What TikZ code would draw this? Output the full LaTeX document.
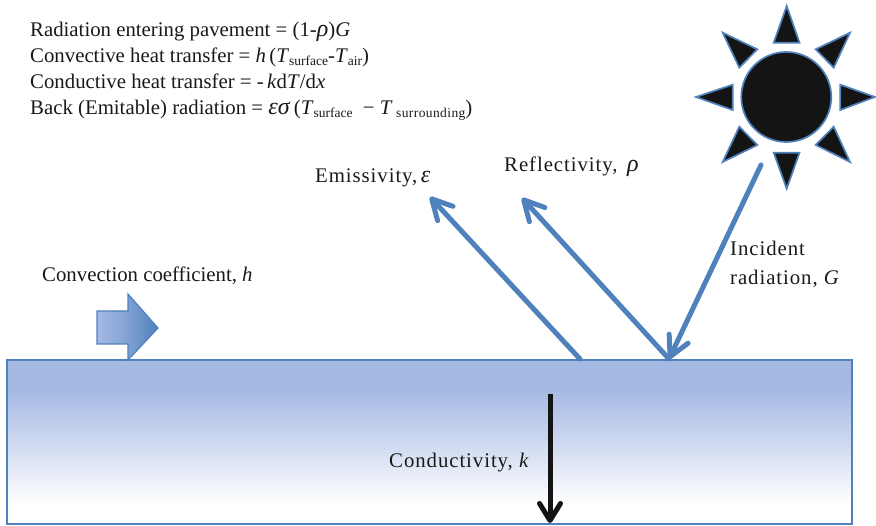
\documentclass[tikz,border=0pt]{standalone}
\usepackage{fontspec}
\setmainfont{Liberation Serif}
\usetikzlibrary{arrows.meta}
\definecolor{rayblue}{HTML}{4F81BD}
\definecolor{topblue}{HTML}{A5B9E3}
\definecolor{sunblack}{HTML}{141414}
\pgfdeclareverticalshading{pavefade}{100bp}{
  color(0bp)=(white); color(29bp)=(white); color(31bp)=(white);
  color(66bp)=(topblue); color(75bp)=(topblue); color(100bp)=(topblue)}
\pgfdeclarehorizontalshading{conveshade}{100bp}{
  color(0bp)=(topblue); color(25bp)=(topblue); color(44bp)=(topblue!70!rayblue);
  color(75bp)=(rayblue); color(100bp)=(rayblue)}
\newcommand{\sbx}[1]{\raisebox{-0.12em}{\fontsize{13.5}{13}\selectfont #1}}
\newcommand{\gk}[1]{\textit{\fontsize{24}{26}\selectfont #1}}
\tikzset{
  lbl/.style={inner sep=0pt,font=\fontsize{20.8}{26}\selectfont,text=black!90,anchor=base west},
  wide/.style={lbl,font=\fontsize{20.8}{26}\selectfont\addfontfeature{LetterSpace=4.5}},
  ray/.style={draw=rayblue,line width=5pt,line cap=round,-{Straight Barb[length=20pt,width=21pt,line width=5pt,round]}},
  sunpart/.style={draw=rayblue,fill=sunblack,line width=1.7pt,line join=miter}
}
\begin{document}
\begin{tikzpicture}[x=1pt,y=-1pt]
\useasboundingbox (0,0) rectangle (876,526);
% pavement
\node[rectangle,minimum width=845pt,minimum height=164pt,inner sep=0pt,outer sep=0pt,draw=rayblue,line width=1.6pt,shading=pavefade,anchor=north west] (pave) at (7,360) {};
% convection arrow
\path[shading=conveshade,draw=rayblue,line width=1.2pt]
  (97,311) -- (128,311) -- (128,294) -- (158,328) -- (128,360) -- (128,344) -- (97,344) -- cycle;
% sun
\node[circle,minimum size=90pt,inner sep=0pt,sunpart] (sun) at (786.3,97) {};
\draw[sunpart] (786.7,6) -- (773.7,42.7) -- (799.5,42.7) -- cycle;
\draw[sunpart] (786.7,188.7) -- (773.7,152.7) -- (799.5,152.7) -- cycle;
\draw[sunpart] (875,97) -- (840.3,84.7) -- (840.3,110) -- cycle;
\draw[sunpart] (696,97) -- (732.7,84.7) -- (732.7,110) -- cycle;
\draw[sunpart] (850,32.7) -- (815.7,49.3) -- (833.7,67.7) -- cycle;
\draw[sunpart] (722.7,32.7) -- (757.3,49.3) -- (739.3,67.7) -- cycle;
\draw[sunpart] (722.7,162) -- (739.3,126.7) -- (757.3,145) -- cycle;
\draw[sunpart] (850,162) -- (833.7,126.7) -- (815.7,145) -- cycle;
% ray end points
\coordinate (inA) at (761,165);
\coordinate (hit) at (669,359);
\coordinate (emA) at (580,359);
\coordinate (reB) at (522,198);
\coordinate (emB) at (430,197);
\coordinate (kA) at (550,394);
\coordinate (kB) at (550,523);
\draw[ray] (inA) -- (hit);
\draw[ray] (hit) -- (reB);
\draw[ray] (emA) -- (emB);
\draw[line width=5pt,draw=sunblack,-{Straight Barb[length=17pt,width=21pt,line width=5pt,round]}] (kA) -- (kB);
% labels
\node[lbl] (t1) at (30,37) {Radiation entering pavement = (1-\gk{ρ})\textit{G}};
\node[lbl] (t2) at (30,63) {Convective heat transfer = \textit{h}\,(\textit{T}\sbx{surface}-\textit{T}\sbx{air})};
\node[lbl] (t3) at (30,89) {Conductive heat transfer = -\,\textit{k}d\textit{T}/d\textit{x}};
\node[lbl] (t4) at (30,115) {Back (Emitable) radiation = \gk{εσ}\,(\textit{T}\sbx{surface}\ \ − \textit{T}\,\sbx{\addfontfeature{LetterSpace=3}surrounding})};
\node[wide] (emi) at (315,183) {Emissivity,\,\gk{ε}};
\node[wide] (ref) at (504,172) {Reflectivity,\ \,\gk{ρ}};
\node[wide] (inc) at (730,256) {Incident};
\node[wide] (rad) at (730,285) {radiation, \textit{G}};
\node[lbl] (con) at (42,282) {Convection coefficient, \textit{h}};
\node[wide] (cdy) at (389,468) {Conductivity, \textit{k}};
\end{tikzpicture}
\end{document}
